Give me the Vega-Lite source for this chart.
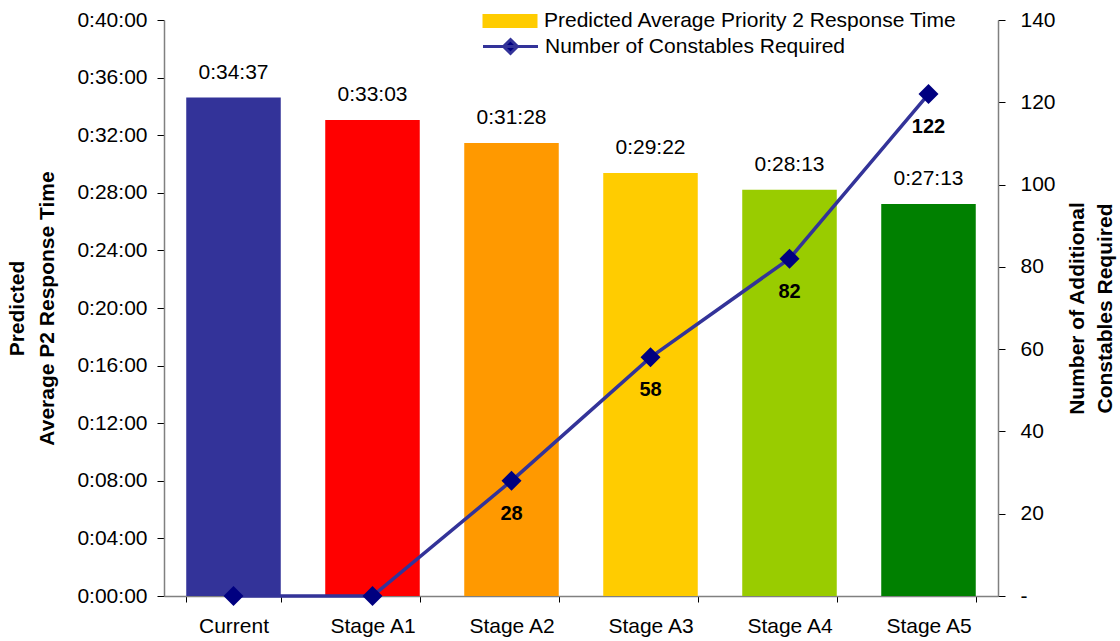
{
  "$schema": "https://vega.github.io/schema/vega-lite/v6.json",
  "width": 834,
  "height": 576,
  "autosize": {"type": "none"},
  "padding": {"left": 164, "top": 20, "right": 122, "bottom": 45},
  "background": "white",
  "config": {
    "view": {"stroke": null},
    "font": "Liberation Sans",
    "axis": {
      "grid": false,
      "domainColor": "#808080",
      "domainWidth": 1.5,
      "tickColor": "#000000",
      "tickSize": 7,
      "labelColor": "#000000",
      "titleColor": "#000000",
      "labelFont": "Liberation Sans",
      "titleFont": "Liberation Sans",
      "labelFontSize": 21,
      "titleFontSize": 21,
      "titleFontWeight": "bold"
    },
    "legend": {
      "title": null,
      "orient": "none",
      "padding": 0,
      "symbolSize": 100,
      "labelFontSize": 21,
      "labelFont": "Liberation Sans",
      "labelColor": "#000000",
      "labelLimit": 700,
      "symbolOpacity": 1
    }
  },
  "data": {
    "values": [
      {"stage": "Current", "minutes": 34.6167, "label": "0:34:37", "constables": 0},
      {"stage": "Stage A1", "minutes": 33.05, "label": "0:33:03", "constables": 0},
      {"stage": "Stage A2", "minutes": 31.4667, "label": "0:31:28", "constables": 28},
      {"stage": "Stage A3", "minutes": 29.3667, "label": "0:29:22", "constables": 58},
      {"stage": "Stage A4", "minutes": 28.2167, "label": "0:28:13", "constables": 82},
      {"stage": "Stage A5", "minutes": 27.2167, "label": "0:27:13", "constables": 122}
    ]
  },
  "encoding": {
    "x": {
      "field": "stage",
      "type": "nominal",
      "sort": null,
      "scale": {"paddingInner": 0.32, "paddingOuter": 0.16},
      "axis": {"title": null, "labelAngle": 0, "tickBand": "extent", "labelPadding": 13, "tickSize": 6}
    }
  },
  "layer": [
    {
      "encoding": {
        "y": {
          "field": "minutes",
          "type": "quantitative",
          "scale": {"domain": [0, 40], "nice": false, "zero": true},
          "axis": {
            "orient": "left",
            "values": [0, 4, 8, 12, 16, 20, 24, 28, 32, 36, 40],
            "labelExpr": "'0:' + (datum.value < 10 ? '0' : '') + datum.value + ':00'",
            "labelPadding": 10,
            "title": ["Predicted", "Average P2 Response Time"],
            "titleLineHeight": 30,
            "titlePadding": 19
          }
        }
      },
      "layer": [
        {
          "mark": {"type": "bar", "strokeWidth": 0},
          "encoding": {
            "fill": {
              "field": "stage",
              "type": "nominal",
              "sort": null,
              "scale": {
                "domain": ["Current", "Stage A1", "Stage A2", "Stage A3", "Stage A4", "Stage A5"],
                "range": ["#333399", "#FF0000", "#FF9900", "#FFCC00", "#99CC00", "#008000"]
              },
              "legend": null
            },
            "stroke": {
              "datum": "Predicted Average Priority 2 Response Time",
              "type": "nominal",
              "scale": {"range": ["#FFCC00"]},
              "legend": {
                "legendX": 311.5,
                "legendY": -11,
                "labelOffset": 44.5,
                "symbolType": "M-1,0H10",
                "symbolStrokeWidth": 14,
                "symbolStrokeColor": "#FFCC00",
                "symbolFillColor": "#FFCC00"
              }
            }
          }
        },
        {
          "mark": {"type": "text", "baseline": "alphabetic", "align": "center", "dy": -19, "fontSize": 21, "font": "Liberation Sans", "color": "#000000"},
          "encoding": {"text": {"field": "label"}}
        }
      ]
    },
    {
      "encoding": {
        "y": {
          "field": "constables",
          "type": "quantitative",
          "scale": {"domain": [0, 140], "nice": false},
          "axis": {
            "orient": "right",
            "values": [0, 20, 40, 60, 80, 100, 120, 140],
            "labelExpr": "datum.value === 0 ? '-' : datum.label",
            "labelPadding": 15,
            "title": ["Number of Additional", "Constables Required"],
            "titleAngle": 270,
            "titleLineHeight": 28,
            "titlePadding": 4
          }
        }
      },
      "layer": [
        {
          "mark": {"type": "line", "strokeWidth": 3.5},
          "encoding": {
            "color": {
              "datum": "Number of Constables Required",
              "type": "nominal",
              "scale": {"range": ["#333399"]},
              "legend": {
                "legendX": 313.5,
                "legendY": 16,
                "labelOffset": 46.5,
                "symbolType": "M-1,0H10M4.5,-1.4L5.9,0L4.5,1.4L3.1,0Z",
                "symbolFillColor": "#000080",
                "symbolStrokeColor": "#333399",
                "symbolStrokeWidth": 3
              }
            }
          }
        },
        {
          "mark": {"type": "point", "shape": "diamond", "filled": true, "size": 400, "opacity": 1, "color": "#000080"}
        },
        {
          "transform": [{"filter": "datum.constables > 0"}],
          "mark": {"type": "text", "baseline": "alphabetic", "align": "center", "dy": 39, "fontSize": 20, "fontWeight": "bold", "font": "Liberation Sans", "color": "#000000"},
          "encoding": {"text": {"field": "constables", "type": "quantitative"}}
        }
      ]
    }
  ],
  "resolve": {"scale": {"y": "independent"}}
}
